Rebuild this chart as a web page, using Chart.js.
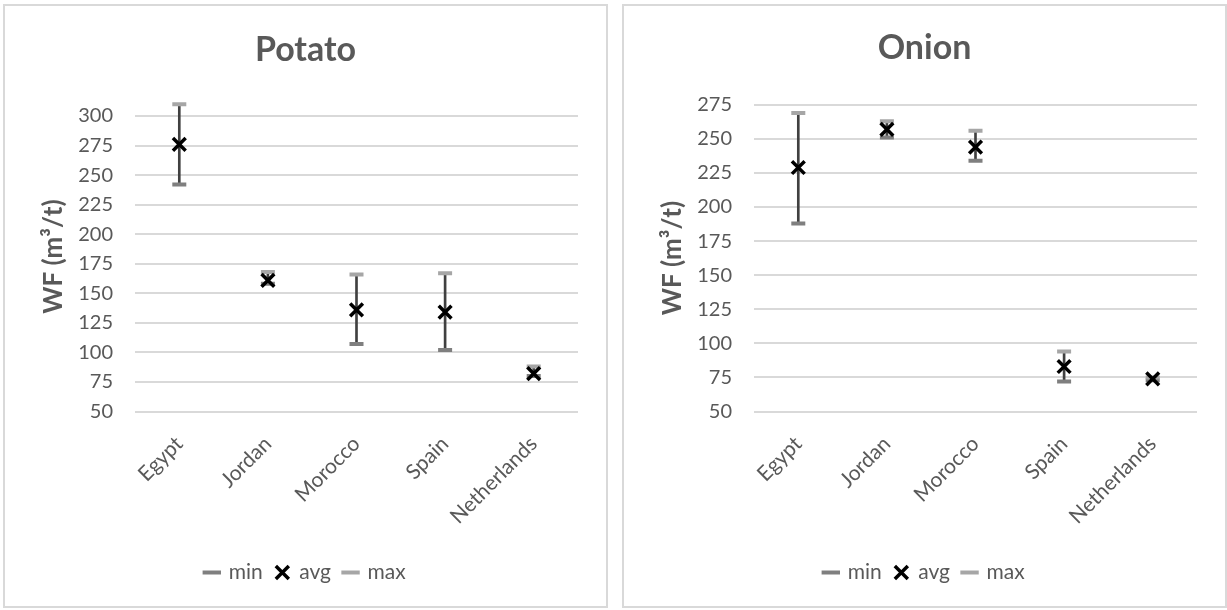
<!DOCTYPE html>
<html>
<head>
<meta charset="utf-8">
<script src="https://cdn.jsdelivr.net/npm/chart.js@4"></script>
<style>
    body { margin: 0; width: 1227px; height: 610px; background: #fff; overflow: hidden; }
    .panel { position: absolute; top: 4px; width: 605px; height: 604px; border: 2px solid #d9d9d9; box-sizing: border-box; }
    .panel div { position: relative; width: 601px; height: 600px; }
</style>
</head>
<body>
<div class="panel" style="left:3px"><div><canvas id="potato"></canvas></div></div>
<div class="panel" style="left:622px"><div><canvas id="onion"></canvas></div></div>
<script>
const countries = ['Egypt', 'Jordan', 'Morocco', 'Spain', 'Netherlands'];

const potatoMin = [242, 158, 107, 102, 80];
const potatoAvg = [276, 161, 136, 134, 82];
const potatoMax = [310, 168, 166, 167, 88];

const onionMin = [188, 251, 234, 72, 73];
const onionAvg = [229, 257, 244, 83, 74];
const onionMax = [269, 263, 256, 94, 75];

const potatoTicks = [50, 75, 100, 125, 150, 175, 200, 225, 250, 275, 300];
const onionTicks = [50, 75, 100, 125, 150, 175, 200, 225, 250, 275];

// top of the plot area (potato caps run above the last gridline)
const potatoTop = 312;
const onionTop = 275;

const FONT = 'Lato, "Open Sans", sans-serif';
const GREY = '#595959';

function makeChart(id, title, minV, avgV, maxV, ticks, top, titlePad) {
    return new Chart(document.getElementById(id), {
        type: 'bar',
        data: {
            labels: countries,
            datasets: [
                {
                    type: 'line', label: 'min', data: minV, showLine: false, order: 3,
                    pointStyle: 'line', pointRadius: 7, pointHoverRadius: 7, borderWidth: 4, pointBorderWidth: 4,
                    borderColor: '#7f7f7f', backgroundColor: '#7f7f7f'
                },
                {
                    type: 'line', label: 'avg', data: avgV, showLine: false, order: 1,
                    pointStyle: 'crossRot', pointRadius: 9, pointHoverRadius: 9, borderWidth: 3.5, pointBorderWidth: 3.5,
                    borderColor: '#000', backgroundColor: '#000'
                },
                {
                    type: 'line', label: 'max', data: maxV, showLine: false, order: 2,
                    pointStyle: 'line', pointRadius: 7, pointHoverRadius: 7, borderWidth: 4, pointBorderWidth: 4,
                    borderColor: '#a6a6a6', backgroundColor: '#a6a6a6'
                },
                {
                    // whisker from min to max
                    label: 'range', data: minV.map((v, i) => [v, maxV[i]]), order: 4,
                    backgroundColor: '#404040', barThickness: 2, borderWidth: 0
                }
            ]
        },
        options: {
            responsive: true,
            maintainAspectRatio: false,
            animation: false,
            layout: { padding: { left: 28, right: 28, top: 0, bottom: 13 } },
            scales: {
                x: {
                    offset: true,
                    grid: { display: false },
                    border: { display: false },
                    ticks: { color: GREY, font: { family: FONT, size: 21 }, minRotation: 45, maxRotation: 45, padding: 12 },
                    afterFit: s => { s.height = 137.5; }
                },
                y: {
                    min: ticks[0], max: top,
                    grid: { color: '#d9d9d9', lineWidth: 2, drawTicks: false },
                    border: { display: false },
                    ticks: { color: GREY, font: { family: FONT, size: 20 }, padding: 22 },
                    afterBuildTicks: s => { s.ticks = ticks.map(v => ({ value: v })); },
                    title: { display: true, text: 'WF (m³/t)', color: GREY, font: { family: FONT, size: 26, weight: 'bold' }, padding: { top: 5, bottom: 0 } },
                    afterFit: s => { s.width = 102; }
                }
            },
            plugins: {
                title: { display: true, text: title, color: GREY, font: { family: FONT, size: 34, weight: 'bold' }, padding: titlePad },
                legend: {
                    position: 'bottom',
                    labels: {
                        usePointStyle: true, boxHeight: 13, boxWidth: 13, padding: 13,
                        color: GREY, font: { family: FONT, size: 21 },
                        filter: item => item.datasetIndex < 3,
                        sort: (a, b) => a.datasetIndex - b.datasetIndex
                    }
                },
                tooltip: { enabled: false }
            }
        }
    });
}

makeChart('potato', 'Potato', potatoMin, potatoAvg, potatoMax, potatoTicks, potatoTop, { top: 24, bottom: 31 });
makeChart('onion', 'Onion', onionMin, onionAvg, onionMax, onionTicks, onionTop, { top: 22, bottom: 36 });
</script>
</body>
</html>
